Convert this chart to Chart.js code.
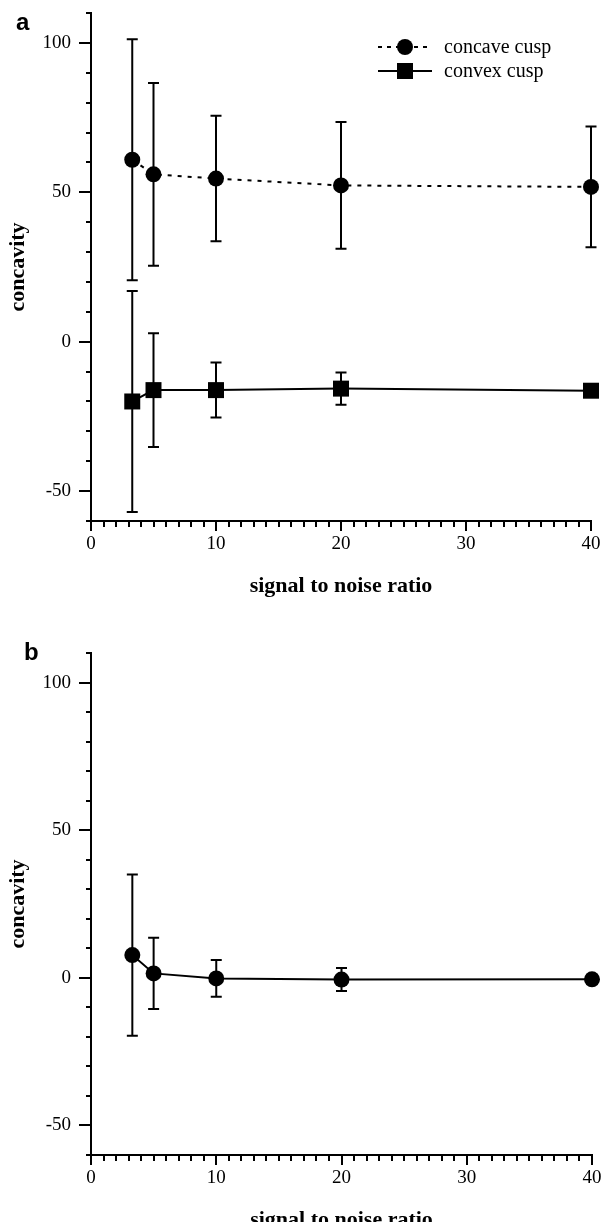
<!DOCTYPE html>
<html><head><meta charset="utf-8">
<script src="https://cdn.jsdelivr.net/npm/chart.js@4.4.0/dist/chart.umd.min.js"></script>
<style>
html,body{margin:0;padding:0;background:#fff;width:604px;height:1222px;overflow:hidden;position:relative}
.wrap{position:absolute;left:0;width:604px}
.lab{position:absolute;font:bold 24px 'Liberation Sans',Arial,sans-serif;line-height:24px;color:#000}
</style></head><body>
<div class="wrap" style="top:0;height:610px"><canvas id="ca" width="604" height="610"></canvas></div>
<div class="wrap" style="top:640px;height:604px"><canvas id="cb" width="604" height="604"></canvas></div>
<div class="lab" style="left:16px;top:10px">a</div>
<div class="lab" style="left:24px;top:640px">b</div>
<script>
// ---- data ----
const snr = [3.3, 5, 10, 20, 40];
const concaveA = [60.9, 56.0, 54.6, 52.3, 51.8];
const concaveAErr = [40.3, 30.6, 21.0, 21.2, 20.2];
const convexA = [-20.0, -16.2, -16.2, -15.7, -16.4];
const convexAErr = [37.0, 19.0, 9.2, 5.4, 2.0];
const panelB = [7.7, 1.5, -0.2, -0.6, -0.5];
const panelBErr = [27.3, 12.1, 6.2, 3.9, 1.5];
const xTicks = [0, 10, 20, 30, 40];
const yTicks = [-50, 0, 50, 100];
const legendLabels = ['concave cusp', 'convex cusp'];
const xTitle = 'signal to noise ratio';
const yTitle = 'concavity';

const serif = "'Liberation Serif','Times New Roman',serif";

function pts(vals){ return snr.map((x,i)=>({x:x, y:vals[i]})); }

const errorBars = {
  id:'errorBars',
  beforeDatasetsDraw(chart){
    const {ctx, scales:{x, y}} = chart;
    chart.data.datasets.forEach(ds=>{
      if(!ds.errors) return;
      ctx.save(); ctx.strokeStyle='#000'; ctx.lineWidth=2;
      ds.data.forEach((p,i)=>{
        const e = ds.errors[i];
        const px = x.getPixelForValue(p.x);
        const t = y.getPixelForValue(p.y+e), b = y.getPixelForValue(p.y-e);
        ctx.beginPath();
        ctx.moveTo(px,t); ctx.lineTo(px,b);
        ctx.moveTo(px-5.5,t); ctx.lineTo(px+5.5,t);
        ctx.moveTo(px-5.5,b); ctx.lineTo(px+5.5,b);
        ctx.stroke();
      });
      ctx.restore();
    });
  }
};

const minorTicks = {
  id:'minorTicks',
  afterDraw(chart){
    const {ctx, scales:{x, y}} = chart;
    ctx.save(); ctx.strokeStyle='#000'; ctx.lineWidth=2; ctx.beginPath();
    for(let v=x.min; v<=x.max; v+=1){
      if(v%10===0) continue;
      const px = Math.round(x.getPixelForValue(v));
      ctx.moveTo(px, y.bottom); ctx.lineTo(px, y.bottom+6);
    }
    for(let v=y.min; v<=y.max; v+=10){
      if(v%50===0) continue;
      const py = Math.round(y.getPixelForValue(v));
      ctx.moveTo(x.left-5, py); ctx.lineTo(x.left, py);
    }
    ctx.stroke(); ctx.restore();
  }
};

const legendPlugin = {
  id:'customLegend',
  afterDraw(chart){
    const ctx = chart.ctx;
    const rows = [{y:47, dash:[4,5], style:'circle'}, {y:71, dash:[], style:'rect'}];
    ctx.save();
    rows.forEach((r,i)=>{
      ctx.strokeStyle='#000'; ctx.fillStyle='#000'; ctx.lineWidth=2;
      ctx.setLineDash(r.dash);
      ctx.beginPath(); ctx.moveTo(378, r.y); ctx.lineTo(432, r.y); ctx.stroke();
      ctx.setLineDash([]);
      ctx.beginPath();
      if(r.style==='circle'){ ctx.arc(405, r.y, 8, 0, Math.PI*2); }
      else { ctx.rect(397, r.y-8, 16, 16); }
      ctx.fill();
      ctx.font = '20px ' + serif; ctx.textBaseline='alphabetic'; ctx.textAlign='left';
      ctx.fillText(legendLabels[i], 444, r.y+6);
    });
    ctx.restore();
  }
};

function makeScales(){
  return {
    x:{
      type:'linear', min:0, max:40,
      afterBuildTicks(s){ s.ticks = xTicks.map(v=>({value:v})); },
      ticks:{font:{family:serif, size:19}, color:'#000', padding:2, maxRotation:0, autoSkip:false},
      grid:{drawOnChartArea:false, color:'#000', lineWidth:2, tickLength:10},
      border:{color:'#000', width:2},
      title:{display:true, text:xTitle, color:'#000', font:{family:serif, size:22, weight:'bold'}, padding:{top:0, bottom:10}},
      afterFit(s){ s.height = 89; }
    },
    y:{
      type:'linear', min:-60, max:110,
      afterBuildTicks(s){ s.ticks = yTicks.map(v=>({value:v})); },
      ticks:{font:{family:serif, size:19}, color:'#000', padding:8, autoSkip:false},
      grid:{drawOnChartArea:false, color:'#000', lineWidth:2, tickLength:12},
      border:{color:'#000', width:2},
      title:{display:true, text:yTitle, color:'#000', font:{family:serif, size:22, weight:'bold'}, padding:{top:5, bottom:0}},
      afterFit(s){ s.width = 91; s.paddingTop = 0; s.paddingBottom = 0; }
    }
  };
}

const common = {
  responsive:false, animation:false,
  plugins:{legend:{display:false}, tooltip:{enabled:false}},
};

new Chart(document.getElementById('ca'), {
  type:'line',
  data:{datasets:[
    {label:legendLabels[0], data:pts(concaveA), errors:concaveAErr, clip:false, borderColor:'#000', backgroundColor:'#000', borderWidth:2, borderDash:[4,6], pointStyle:'circle', pointRadius:8, pointBackgroundColor:'#000', pointBorderColor:'#000', pointBorderWidth:0, tension:0},
    {label:legendLabels[1], data:pts(convexA), errors:convexAErr, clip:false, borderColor:'#000', backgroundColor:'#000', borderWidth:2, pointStyle:'rect', pointRadius:11.3, pointBackgroundColor:'#000', pointBorderColor:'#000', pointBorderWidth:0, tension:0}
  ]},
  options:Object.assign({}, common, {layout:{padding:{top:13, right:13, left:0, bottom:0}}, scales:makeScales()}),
  plugins:[errorBars, minorTicks, legendPlugin]
});

new Chart(document.getElementById('cb'), {
  type:'line',
  data:{datasets:[
    {label:'b', data:pts(panelB), errors:panelBErr, clip:false, borderColor:'#000', backgroundColor:'#000', borderWidth:2, pointStyle:'circle', pointRadius:8, pointBackgroundColor:'#000', pointBorderColor:'#000', pointBorderWidth:0, tension:0}
  ]},
  options:Object.assign({}, common, {layout:{padding:{top:13, right:12, left:0, bottom:0}}, scales:makeScales()}),
  plugins:[errorBars, minorTicks]
});
</script>
</body></html>
